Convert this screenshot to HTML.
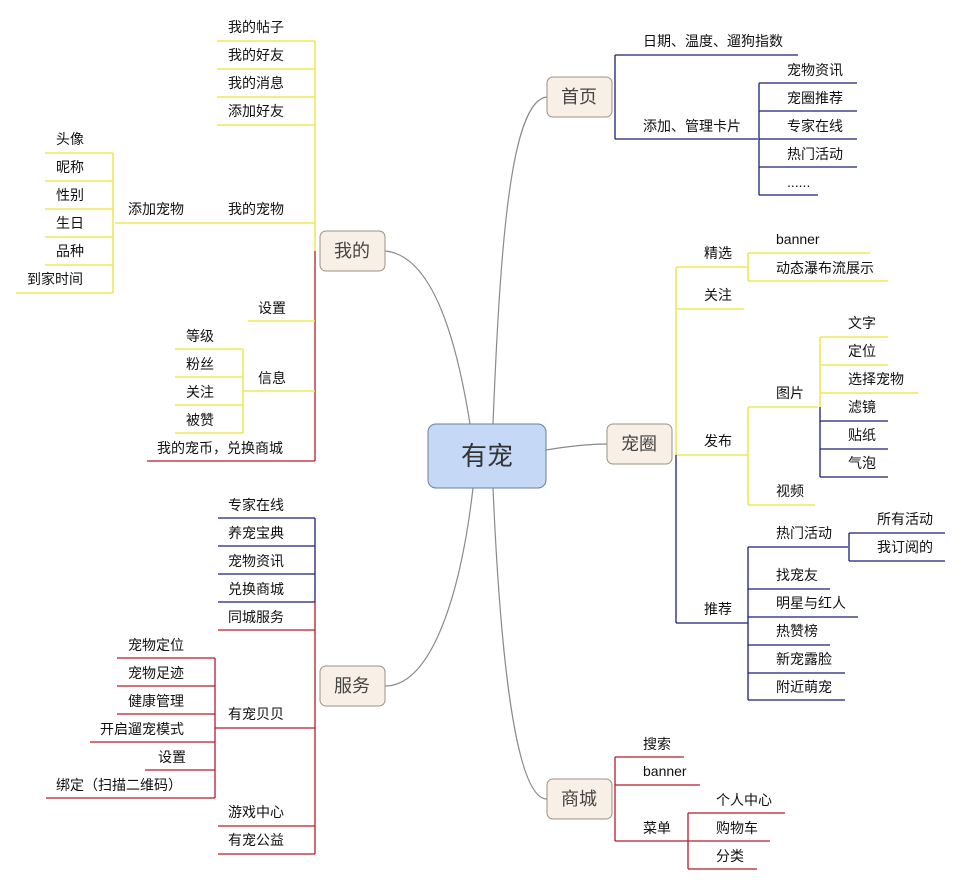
<!DOCTYPE html>
<html><head><meta charset="utf-8"><style>
html,body{margin:0;padding:0;background:#fff}
svg{display:block}
text{font-family:"Liberation Sans","Noto Sans CJK SC",sans-serif;font-size:14px;fill:#111}
.y{stroke:#eee85a;stroke-width:1.6;fill:none}
.n{stroke:#1b1f78;stroke-width:1.3;fill:none}
.r{stroke:#b51a2c;stroke-width:1.3;fill:none}
.c{stroke:#8a8a8a;stroke-width:1.2;fill:none}
.box{fill:#f8f0e6;stroke:#9c9284;stroke-width:1}
.bt{font-size:18px;fill:#444;text-anchor:middle}
</style></head><body>
<svg width="962" height="885" viewBox="0 0 962 885" xmlns="http://www.w3.org/2000/svg">
<!-- curves -->
<path class="c" d="M470 424 C455 330 430 255 385 251"/>
<path class="c" d="M493 424 C500 250 510 100 547 97"/>
<path class="c" d="M546 450 C570 446 590 444 607 444"/>
<path class="c" d="M473 488 C460 600 430 686 385 686"/>
<path class="c" d="M493 488 C500 650 515 799 547 799"/>

<!-- 我的 -->
<path class="y" d="M315 41 V251"/>
<path class="r" d="M315 251 V461"/>
<path class="y" d="M217 41H315M217 69H315M217 97H315M217 125H315M115 223H315M248 321H315M243 391H315"/>
<path class="y" d="M113 153V293M45 153H113M45 181H113M45 209H113M45 237H113M45 265H113M16 293H113"/>
<path class="y" d="M243 349V433M175 349H243M175 377H243M175 405H243M175 433H243"/>
<path class="r" d="M147 461H315"/>
<text x="228" y="32">我的帖子</text><text x="228" y="60">我的好友</text><text x="228" y="88">我的消息</text><text x="228" y="116">添加好友</text>
<text x="228" y="214">我的宠物</text><text x="128" y="214">添加宠物</text>
<text x="56" y="144">头像</text><text x="56" y="172">昵称</text><text x="56" y="200">性别</text><text x="56" y="228">生日</text><text x="56" y="256">品种</text><text x="27" y="284">到家时间</text>
<text x="258" y="313">设置</text><text x="258" y="383">信息</text>
<text x="186" y="341">等级</text><text x="186" y="369">粉丝</text><text x="186" y="397">关注</text><text x="186" y="425">被赞</text>
<text x="157" y="453">我的宠币，兑换商城</text>

<!-- 首页 -->
<path class="n" d="M615 55V139M615 55H798M615 139H758M759 83V195M759 83H857M759 111H857M759 139H857M759 167H857M759 195H818"/>
<text x="643" y="46">日期、温度、遛狗指数</text><text x="643" y="131">添加、管理卡片</text>
<text x="787" y="75">宠物资讯</text><text x="787" y="103">宠圈推荐</text><text x="787" y="131">专家在线</text><text x="787" y="159">热门活动</text><text x="787" y="187">......</text>

<!-- 宠圈 -->
<path class="y" d="M676 267V455M676 267H748M748 253V281M748 253H870M748 281H888M676 309H744M676 455H748M748 407V505M748 407H818M748 505H815M820 337V407M820 337H888M820 365H888M820 393H918"/>
<path class="n" d="M676 455V623M820 407V477M820 421H888M820 449H888M820 477H888M676 623H748M748 547V700M748 547H848M849 533V561M849 533H945M849 561H945M748 589H830M748 617H858M748 645H830M748 673H845M748 700H845"/>
<text x="704" y="258">精选</text><text x="776" y="244">banner</text><text x="776" y="273">动态瀑布流展示</text>
<text x="704" y="300">关注</text><text x="704" y="446">发布</text>
<text x="776" y="398">图片</text><text x="776" y="496">视频</text>
<text x="848" y="328">文字</text><text x="848" y="356">定位</text><text x="848" y="384">选择宠物</text><text x="848" y="412">滤镜</text><text x="848" y="440">贴纸</text><text x="848" y="468">气泡</text>
<text x="704" y="614">推荐</text><text x="776" y="538">热门活动</text>
<text x="877" y="524">所有活动</text><text x="877" y="552">我订阅的</text>
<text x="776" y="580">找宠友</text><text x="776" y="608">明星与红人</text><text x="776" y="636">热赞榜</text><text x="776" y="664">新宠露脸</text><text x="776" y="692">附近萌宠</text>

<!-- 服务 -->
<path class="n" d="M315 518V602M218 518H315M218 546H315M218 574H315M218 602H315"/>
<path class="r" d="M315 602V854M218 630H315M215 728H315M218 826H315M218 854H315M215 658V798M117 658H215M117 686H215M117 714H215M90 742H215M145 770H215M46 798H215"/>
<text x="228" y="510">专家在线</text><text x="228" y="538">养宠宝典</text><text x="228" y="566">宠物资讯</text><text x="228" y="594">兑换商城</text><text x="228" y="622">同城服务</text>
<text x="228" y="719">有宠贝贝</text><text x="228" y="817">游戏中心</text><text x="228" y="845">有宠公益</text>
<text x="128" y="650">宠物定位</text><text x="128" y="678">宠物足迹</text><text x="128" y="706">健康管理</text><text x="100" y="734">开启遛宠模式</text><text x="158" y="762">设置</text><text x="56" y="790">绑定（扫描二维码）</text>

<!-- 商城 -->
<path class="r" d="M615 757V841M615 757H684M615 785H700M615 841H770M688 813V869M688 813H785M688 869H757"/>
<text x="643" y="749">搜索</text><text x="643" y="776">banner</text><text x="643" y="833">菜单</text>
<text x="716" y="805">个人中心</text><text x="716" y="833">购物车</text><text x="716" y="861">分类</text>

<!-- boxes -->
<rect x="428" y="424" width="118" height="64" rx="8" fill="#c5d9f7" stroke="#6b7d9c"/>
<text x="487" y="465" style="font-size:26px;fill:#333;text-anchor:middle">有宠</text>
<rect class="box" x="320" y="231" width="65" height="40" rx="6"/><text class="bt" x="352" y="257">我的</text>
<rect class="box" x="547" y="77" width="65" height="40" rx="6"/><text class="bt" x="579" y="103">首页</text>
<rect class="box" x="607" y="424" width="65" height="40" rx="6"/><text class="bt" x="639" y="450">宠圈</text>
<rect class="box" x="320" y="666" width="65" height="40" rx="6"/><text class="bt" x="352" y="692">服务</text>
<rect class="box" x="547" y="779" width="65" height="40" rx="6"/><text class="bt" x="579" y="805">商城</text>
</svg>
</body></html>
